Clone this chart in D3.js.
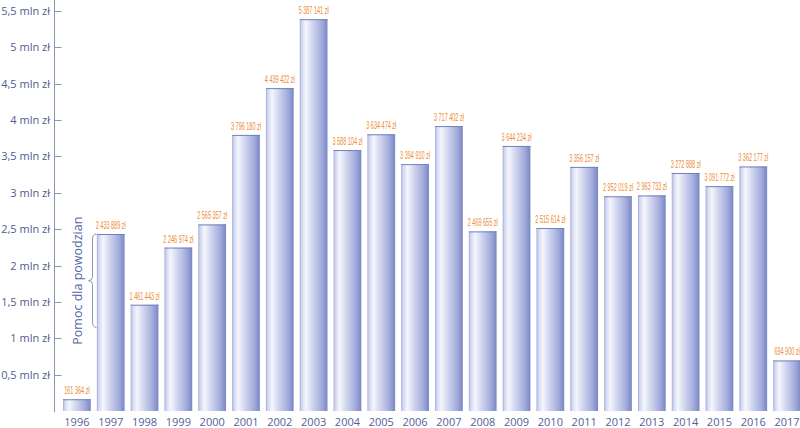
<!DOCTYPE html>
<html>
<head>
<meta charset="utf-8">
<script src="https://cdn.jsdelivr.net/npm/d3@7"></script>
<style>
  body { margin: 0; background: #fff; }
  svg { display: block; }
</style>
</head>
<body>
<div id="chart"></div>
<script>
var width = 800,
    height = 428;

// data
var years = ["1996", "1997", "1998", "1999", "2000", "2001", "2002", "2003", "2004", "2005", "2006",
             "2007", "2008", "2009", "2010", "2011", "2012", "2013", "2014", "2015", "2016", "2017"];
var values = [161364, 2433889, 1461443, 2246974, 2565357, 3796180, 4439422, 5387141, 3588104, 3804474, 3394910,
              3917402, 2469655, 3644234, 2515614, 3356157, 2952019, 2963733, 3272888, 3091772, 3362177, 694900];
var valueLabels = ["161 364 zł", "2 433 889 zł", "1 461 443 zł", "2 246 974 zł", "2 565 357 zł", "3 796 180 zł",
                   "4 439 422 zł", "5 387 141 zł", "3 588 104 zł", "3 634 474 zł", "3 394 910 zł", "3 717 402 zł",
                   "2 469 655 zł", "3 644 234 zł", "2 515  614 zł", "3 356 157 zł", "2 952 019 zł", "2 963 733 zł",
                   "3 272 888 zł", "3 091 772 zł", "3 362 177 zł", "694 900 zł"];
var yTicks = [500000, 1000000, 1500000, 2000000, 2500000, 3000000, 3500000, 4000000, 4500000, 5000000, 5500000];
var noteText = "Pomoc dla powodzian";
var noteRange = [1150000, 2433889];

var axisX = 54.5;

var x = d3.scaleBand()
    .domain(years)
    .range([60, 804])
    .paddingInner(0.18)
    .paddingOuter(0.09);

var y = d3.scaleLinear()
    .domain([0, 5500000])
    .range([411, 11]);

var svg = d3.select("#chart").append("svg")
    .attr("width", width)
    .attr("height", height)
    .attr("font-family", "'Open Sans', sans-serif");

var defs = svg.append("defs");
var grad = defs.append("linearGradient")
    .attr("id", "barGrad")
    .attr("x1", "0%").attr("x2", "100%")
    .attr("y1", "0%").attr("y2", "0%");
grad.selectAll("stop")
    .data([
        { o: "0%", c: "#9ea8d8" },
        { o: "6%", c: "#d0d5ef" },
        { o: "22%", c: "#f5f6fc" },
        { o: "45%", c: "#d2d7ef" },
        { o: "80%", c: "#a0aadb" },
        { o: "100%", c: "#7986c3" }
    ])
    .join("stop")
    .attr("offset", d => d.o)
    .attr("stop-color", d => d.c);

// y axis
svg.append("line")
    .attr("x1", axisX).attr("x2", axisX)
    .attr("y1", 0).attr("y2", y(0) + 1)
    .attr("stroke", "#8e96ad")
    .attr("stroke-width", 1);

var tick = svg.append("g")
    .selectAll("g")
    .data(yTicks)
    .join("g")
    .attr("transform", d => `translate(0,${Math.round(y(d)) + 0.5})`);

tick.append("line")
    .attr("x1", axisX).attr("x2", axisX + 7)
    .attr("stroke", "#8e96ad");

tick.append("text")
    .attr("x", 50)
    .attr("dy", "0.35em")
    .attr("text-anchor", "end")
    .attr("font-size", 11)
    .attr("fill", "#4f5d8e")
    .text(d => String(d / 1e6).replace(".", ",") + " mln zł");

// bars
var bar = svg.append("g")
    .selectAll("g")
    .data(values)
    .join("g")
    .attr("transform", (d, i) => `translate(${x(years[i])},0)`);

bar.append("rect")
    .attr("y", d => y(d))
    .attr("width", x.bandwidth())
    .attr("height", d => y(0) - y(d))
    .attr("fill", "url(#barGrad)");

bar.append("line")
    .attr("x1", 0).attr("x2", x.bandwidth())
    .attr("y1", d => y(d) + 0.5).attr("y2", d => y(d) + 0.5)
    .attr("stroke", "#7380bd")
    .attr("stroke-width", 1);

bar.append("text")
    .attr("transform", d => `translate(${x.bandwidth() / 2},${y(d) - 5}) scale(0.48,1)`)
    .attr("text-anchor", "middle")
    .attr("font-family", "'Liberation Sans', Arial, sans-serif")
    .attr("font-size", 11.5)
    .attr("fill", "#ee8a33")
    .text((d, i) => valueLabels[i]);

// year labels
svg.append("g")
    .selectAll("text")
    .data(years)
    .join("text")
    .attr("x", d => x(d) + x.bandwidth() / 2)
    .attr("y", 426)
    .attr("text-anchor", "middle")
    .attr("font-size", 11)
    .attr("fill", "#52619a")
    .text(d => d);

// flood annotation: brace + rotated text
var bTop = y(noteRange[1]),
    bBot = y(noteRange[0]),
    bMid = (bTop + bBot) / 2,
    sx = 92.5;

svg.append("path")
    .attr("d", `M${sx + 4},${bTop} Q${sx},${bTop} ${sx},${bTop + 5}`
        + ` L${sx},${bMid - 4} Q${sx},${bMid} ${sx - 4},${bMid}`
        + ` Q${sx},${bMid} ${sx},${bMid + 4}`
        + ` L${sx},${bBot - 5} Q${sx},${bBot} ${sx + 4},${bBot}`)
    .attr("fill", "none")
    .attr("stroke", "#8f97b8")
    .attr("stroke-width", 1);

svg.append("text")
    .attr("transform", `translate(82,${bMid}) rotate(-90)`)
    .attr("text-anchor", "middle")
    .attr("font-size", 12.5)
    .attr("fill", "#5565a6")
    .text(noteText);
</script>
</body>
</html>
